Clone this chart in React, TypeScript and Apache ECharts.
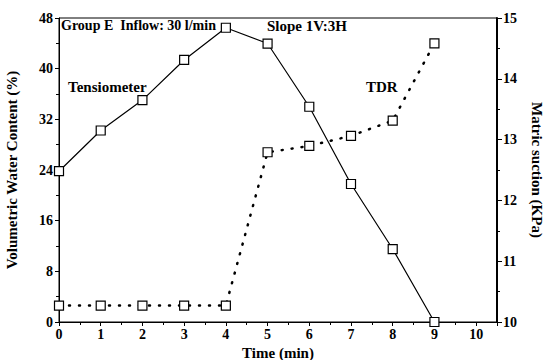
import React, { useEffect, useRef } from "react";
import * as echarts from "echarts";

const times = [0, 1, 2, 3, 4, 5, 6, 7, 8, 9];
// Tensiometer matric suction (kPa), right axis
const tensiometer = [12.48, 13.15, 13.65, 14.31, 14.84, 14.58, 13.54, 12.27, 11.2, 10.0];
// TDR volumetric water content (%), left axis
const tdr = [2.6, 2.6, 2.6, 2.6, 2.6, 26.8, 27.8, 29.4, 31.8, 44.0];

const FONT = "Liberation Serif";

export default function App() {
  const ref = useRef<HTMLDivElement>(null);
  useEffect(() => {
    if (!ref.current) return;
    const chart = echarts.init(ref.current, undefined, { renderer: "svg" });
    const labelStyle = { color: "#000", fontFamily: FONT, fontWeight: "bold" as const, fontSize: 14 };
    chart.setOption({
      animation: false,
      backgroundColor: "#fff",
      grid: {
        left: 59, right: 48, top: 18, bottom: 38,
        containLabel: false, outerBoundsMode: "none",
        show: true, borderColor: "#000", borderWidth: 1, backgroundColor: "transparent",
      },
      xAxis: {
        type: "value",
        min: 0,
        max: 10.5,
        interval: 1,
        name: "Time (min)",
        nameLocation: "middle",
        nameGap: 13,
        nameTextStyle: { ...labelStyle, fontSize: 15, lineHeight: 15 },
        axisLine: { lineStyle: { color: "#000", width: 1 } },
        axisTick: { show: true, length: 4, lineStyle: { color: "#000" } },
        minorTick: { show: true, splitNumber: 2, length: 3, lineStyle: { color: "#000" } },
        axisLabel: { ...labelStyle, margin: 5, showMaxLabel: false, formatter: (v: number) => (Number.isInteger(v) ? String(v) : "") },
        splitLine: { show: false },
      },
      yAxis: [
        {
          type: "value",
          min: 0,
          max: 48,
          interval: 8,
          name: "Volumetric Water Content (%)",
          nameLocation: "middle",
          nameGap: 40,
          nameTextStyle: { ...labelStyle, fontSize: 15 },
          axisLine: { show: true, lineStyle: { color: "#000", width: 1 } },
          axisTick: { show: true, length: 4, lineStyle: { color: "#000" } },
          minorTick: { show: true, splitNumber: 2, length: 3, lineStyle: { color: "#000" } },
          axisLabel: { ...labelStyle, margin: 6 },
          splitLine: { show: false },
        },
        {
          type: "value",
          min: 10,
          max: 15,
          interval: 1,
          position: "right",
          name: "Matric suction (KPa)",
          nameLocation: "middle",
          nameGap: 32,
          nameRotate: -90,
          nameTextStyle: { ...labelStyle, fontSize: 15 },
          axisLine: { show: true, lineStyle: { color: "#000", width: 2 } },
          axisTick: { show: true, length: 5, lineStyle: { color: "#000" } },
          minorTick: { show: true, splitNumber: 2, length: 3, lineStyle: { color: "#000" } },
          axisLabel: { ...labelStyle, margin: 6 },
          splitLine: { show: false },
        },
      ],
      series: [
        {
          name: "Tensiometer",
          type: "line",
          yAxisIndex: 1,
          data: times.map((t, i) => [t, tensiometer[i]]),
          symbol: "rect",
          symbolSize: 9,
          itemStyle: { color: "#fff", borderColor: "#000", borderWidth: 1.2 },
          lineStyle: { color: "#000", width: 1.2 },
          z: 3,
        },
        {
          name: "TDR",
          type: "line",
          yAxisIndex: 0,
          data: times.map((t, i) => [t, tdr[i]]),
          symbol: "rect",
          symbolSize: 9,
          itemStyle: { color: "#fff", borderColor: "#000", borderWidth: 1.2 },
          lineStyle: { color: "#000", width: 2.5, type: [1, 9], cap: "round" },
          z: 2,
        },
      ],
      graphic: [
        { type: "text", left: 61, top: 18, style: { text: "Group E  Inflow: 30 l/min", font: `bold 14px "${FONT}"`, fill: "#000" } },
        { type: "text", left: 267, top: 18, style: { text: "Slope 1V:3H", font: `bold 15px "${FONT}"`, fill: "#000" } },
        { type: "text", left: 68, top: 79, style: { text: "Tensiometer", font: `bold 15px "${FONT}"`, fill: "#000" } },
        { type: "text", left: 366, top: 79, style: { text: "TDR", font: `bold 15px "${FONT}"`, fill: "#000" } },
      ],
    });
    return () => chart.dispose();
  }, []);
  return <div ref={ref} style={{ width: 545, height: 360, position: "absolute", left: 0, top: 0 }} />;
}
